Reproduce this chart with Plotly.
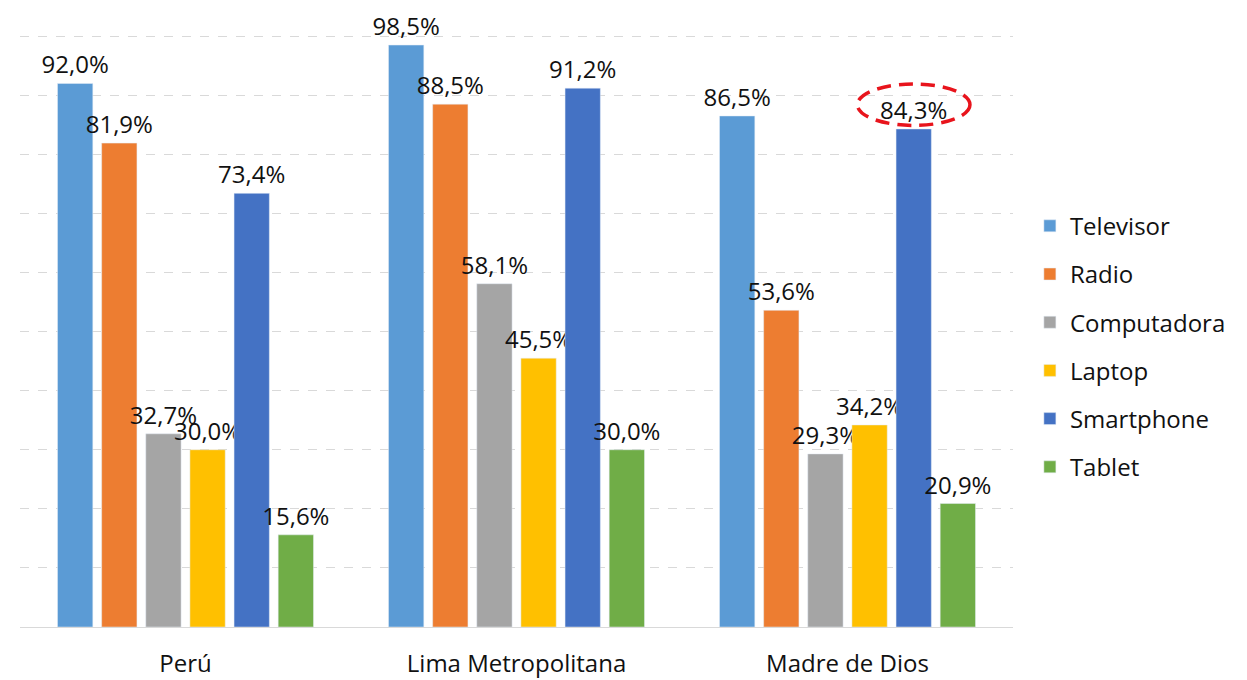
import plotly.graph_objects as go

regions = ["Perú", "Lima Metropolitana", "Madre de Dios"]
devices = ["Televisor", "Radio", "Computadora", "Laptop", "Smartphone", "Tablet"]
televisor = [92.0, 98.5, 86.5]
radio = [81.9, 88.5, 53.6]
computadora = [32.7, 58.1, 29.3]
laptop = [30.0, 45.5, 34.2]
smartphone = [73.4, 91.2, 84.3]
tablet = [15.6, 30.0, 20.9]
colors = ["#5B9BD5", "#ED7D31", "#A5A5A5", "#FFC000", "#4472C4", "#70AD47"]

series = [televisor, radio, computadora, laptop, smartphone, tablet]
FONT = "Open Sans"
SIZE = 24

fig = go.Figure()
for name, vals, col in zip(devices, series, colors):
    fig.add_trace(go.Bar(
        name=name, x=regions, y=vals, marker_color=col,
        text=[f"{v:.1f}%".replace(".", ",") for v in vals],
        textposition="outside", constraintext="none", cliponaxis=False,
        textfont=dict(family=FONT, size=SIZE, color="#111111"),
        legendgroup=name,
    ))

# dashed ellipse highlighting the Madre de Dios smartphone value
n = len(devices)
slot = 0.8 / n
k = devices.index("Smartphone")
xc = regions.index("Madre de Dios") + (k - (n - 1) / 2) * slot
v = smartphone[2]
fig.add_shape(type="circle", xref="x", yref="y",
              x0=xc - 0.17, x1=xc + 0.17, y0=v + 0.6, y1=v + 7.6,
              line=dict(color="#E8141C", width=3.5, dash="14px,8px"))

fig.update_layout(
    width=1247, height=680,
    margin=dict(l=20, r=234, t=35, b=53, autoexpand=False),
    paper_bgcolor="white", plot_bgcolor="white",
    barmode="group", bargap=0.2, bargroupgap=0.2,
    font=dict(family=FONT, color="#111111"),
    legend=dict(x=1.017, y=0.715, xanchor="left", yanchor="top",
                font=dict(family=FONT, size=SIZE), tracegroupgap=14,
                itemwidth=30),
    showlegend=True,
)
fig.update_xaxes(type="category", showline=True, linecolor="#d9d9d9", linewidth=1,
                 tickfont=dict(family=FONT, size=SIZE), ticks="",
                 ticklabelstandoff=15, automargin=False)
fig.update_yaxes(range=[0, 100.2], dtick=10, showticklabels=False, zeroline=False,
                 showgrid=True, gridcolor="#d9d9d9", griddash="dash", gridwidth=1,
                 automargin=False)

fig.write_html("out.html")
